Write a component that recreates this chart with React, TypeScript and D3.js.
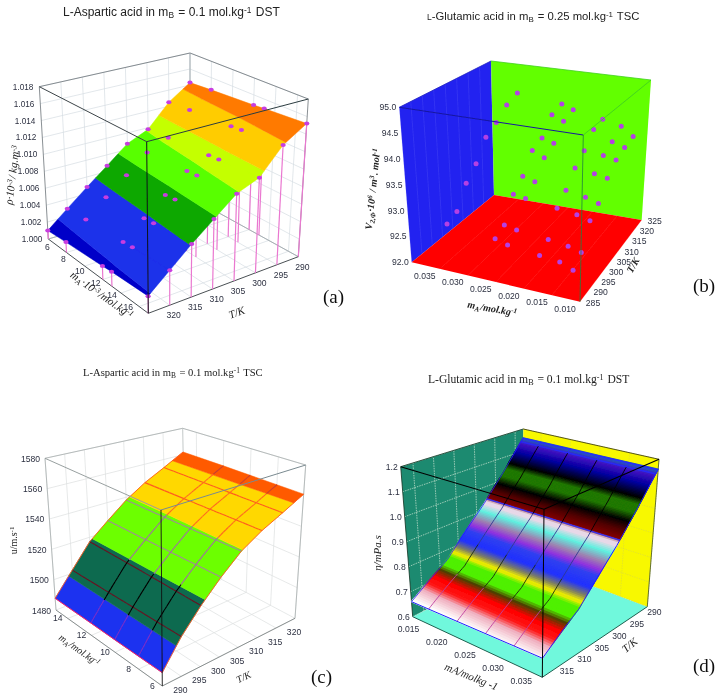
import React from "react";
import * as d3 from "d3";

type Pt = [number, number];
type Corners = { L: Pt; F: Pt; R: Pt; B: Pt; TL: Pt; TF: Pt; TR: Pt; TB: Pt };

// ---------- panel (a) ----------
const aTemps = [325, 320, 315, 310, 305, 300, 295, 290];
const aMolal = [6, 8, 12, 13, 17];
const aRho = [
  [1.001, 1.0012, 1.0015, 1.0016, 1.0018],
  [1.0029, 1.0031, 1.0034, 1.0035, 1.0037],
  [1.0048, 1.005, 1.0053, 1.0054, 1.0057],
  [1.0067, 1.0069, 1.0072, 1.0073, 1.0076],
  [1.0087, 1.0089, 1.0092, 1.0093, 1.0096],
  [1.0098, 1.01, 1.0103, 1.0104, 1.0106],
  [1.0125, 1.0127, 1.013, 1.0131, 1.0135],
  [1.0143, 1.0145, 1.0148, 1.0149, 1.0152],
];
const aLevels = [1.0, 1.002, 1.0056, 1.0078, 1.0097, 1.0112, 1.0137, 1.018];
const aColors = ["#0000c8", "#1c30ea", "#08a800", "#58ff00", "#c4ff00", "#ffcc00", "#ff7a00"];
const aRhoTicks = [1.0, 1.002, 1.004, 1.006, 1.008, 1.01, 1.012, 1.014, 1.016, 1.018];
const aMTicks = [6, 8, 10, 12, 14, 16];
const aTTicks = [320, 315, 310, 305, 300, 295, 290];

// ---------- panel (b) ----------
const bTemps = [290, 295, 300, 305, 310, 315, 320, 325];
const bMolal = [0.0351, 0.0266, 0.0244, 0.0187, 0.0151, 0.0127];
const bVol = [
  [92.7, 92.79, 93.2, 93.44, 93.84, 94.01, 94.24, 94.36],
  [92.61, 92.71, 93.15, 93.35, 93.72, 93.82, 94.16, 94.24],
  [92.54, 92.66, 93.11, 93.28, 93.61, 93.75, 94.06, 94.15],
  [92.47, 92.6, 93.03, 93.22, 93.5, 93.69, 93.97, 94.03],
  [92.43, 92.55, 92.98, 93.15, 93.45, 93.65, 93.77, 93.93],
  [92.33, 92.48, 92.91, 93.07, 93.4, 93.6, 93.69, 93.75],
];
const bVTicks = [92, 92.5, 93, 93.5, 94, 94.5, 95];
const bMTicks = [0.035, 0.03, 0.025, 0.02, 0.015, 0.01];
const bTTicks = [285, 290, 295, 300, 305, 310, 315, 320, 325];

// ---------- panel (c) ----------
const cTemps = [290, 295, 300, 305, 310, 315, 320, 325];
const cMolal = [15, 12, 10, 8, 6];
const cSpeed = [
  [1487.7, 1487.7, 1487.6, 1487.6, 1487.6],
  [1502, 1502.3, 1502.6, 1502.8, 1503],
  [1517, 1516.8, 1516.6, 1516.3, 1516],
  [1527.5, 1527.6, 1527.7, 1527.9, 1528],
  [1538, 1538.3, 1538.5, 1538.8, 1539],
  [1546.7, 1546.8, 1546.9, 1547, 1547],
  [1554, 1553.9, 1553.8, 1553.7, 1553.6],
  [1562, 1561.8, 1561.5, 1561.2, 1561],
];
const cLevels = [1480, 1499, 1518.5, 1539.5, 1557.5, 1580];
const cColors = ["#1c30f0", "#0e6a50", "#6cff00", "#ffd800", "#ff5a00"];
const cRowLine = ["#5020c0", "#6a1020", "#a08a98", "#ff5a20", "#ff5a20"];
const cColLine = ["#7a30c8", "#000000", "#a070a0", "#ff6a20", "#c84030"];
const cUTicks = [1480, 1500, 1520, 1540, 1560, 1580];
const cMTicks = [14, 12, 10, 8, 6];
const cTTicks = [290, 295, 300, 305, 310, 315, 320];

// ---------- panel (d) ----------
const dTemps = [318, 313, 308, 303, 298, 293, 288];
const dMolal = [0.012, 0.015, 0.02, 0.025, 0.03, 0.035];
const dEta = [
  [0.66, 0.661, 0.663, 0.665, 0.666, 0.668],
  [0.71, 0.712, 0.714, 0.715, 0.717, 0.718],
  [0.76, 0.761, 0.762, 0.764, 0.765, 0.766],
  [0.844, 0.844, 0.845, 0.845, 0.846, 0.846],
  [0.93, 0.93, 0.93, 0.93, 0.93, 0.93],
  [1.035, 1.035, 1.035, 1.035, 1.035, 1.035],
  [1.16, 1.16, 1.16, 1.16, 1.16, 1.16],
];
const dStops = [0.6, 0.665, 0.69, 0.705, 0.722, 0.738, 0.75, 0.77, 0.785, 0.8, 0.82, 0.85, 0.865, 0.885, 0.91, 0.93, 0.94, 0.95, 0.975, 1.0, 1.025, 1.05, 1.07, 1.11, 1.14, 1.16, 1.2];
const dStopColors = ["#ffffff", "#ffffff", "#f0b0c0", "#ff1818", "#ff0000", "#504000", "#50f000", "#50f000", "#f0f000", "#808060", "#2030ff", "#3040f0", "#9030e0", "#a080b0", "#60f0e0", "#e8d8e8", "#e8d8e8", "#800000", "#500000", "#000000", "#207800", "#207800", "#000000", "#0000a0", "#4010c0", "#2060c0", "#2060c0"];
const dLineLevels = [0.78, 0.945, 1.145, 1.158];
const dLineColors = ["#e8e800", "#3030ff", "#2828ff", "#2828ff"];
const dETicks = [0.6, 0.7, 0.8, 0.9, 1.0, 1.1, 1.2];
const dMTicks = [0.015, 0.02, 0.025, 0.03, 0.035];
const dTTicks = [315, 310, 305, 300, 295, 290];

// ---------- box placement on the page ----------
const boxA: Corners = { L: [48.3, 239], F: [148.3, 313.3], R: [298.3, 256.7], B: [190, 197], TL: [39.3, 86.7], TF: [146.7, 141.7], TR: [308.3, 99], TB: [190, 53] };
const boxB: Corners = { L: [411.7, 262.3], F: [580, 301.7], R: [641.7, 220], B: [494, 195], TL: [399.3, 107.3], TF: [583.3, 135], TR: [651, 80], TB: [491, 61] };
const boxC: Corners = { L: [56, 610], F: [162.3, 686], R: [295, 618.3], B: [185, 560], TL: [45, 458.3], TF: [161, 510], TR: [305.7, 465], TB: [182.7, 428.3] };
const boxD: Corners = { L: [412.7, 616.7], F: [542.3, 677.3], R: [647.3, 606.7], B: [523.3, 560], TL: [400.7, 466.7], TF: [544, 509.3], TR: [659, 459.3], TB: [523.3, 429] };

const lerp = (a: number, b: number, u: number) => a + (b - a) * u;
const lerpPt = (a: Pt, b: Pt, u: number): Pt => [lerp(a[0], b[0], u), lerp(a[1], b[1], u)];

const projector = (c: Corners) => (f: number, t: number, h: number): Pt => {
  const bottom = lerpPt(lerpPt(c.L, c.F, f), lerpPt(c.B, c.R, f), t);
  const top = lerpPt(lerpPt(c.TL, c.TF, f), lerpPt(c.TB, c.TR, f), t);
  return lerpPt(bottom, top, h);
};
type Proj = ReturnType<typeof projector>;
const unit = (a: number, b: number) => d3.scaleLinear().domain([a, b]).range([0, 1]);
const path = d3.line<Pt>();

type V = { f: number; t: number; v: number };
const clip = (poly: V[], lv: number, above: boolean): V[] => {
  const out: V[] = [];
  const inside = (p: V) => (above ? p.v >= lv : p.v <= lv);
  poly.forEach((p, i) => {
    const q = poly[(i + 1) % poly.length];
    if (inside(p)) out.push(p);
    if (inside(p) !== inside(q)) {
      const u = (lv - p.v) / (q.v - p.v);
      out.push({ f: lerp(p.f, q.f, u), t: lerp(p.t, q.t, u), v: lv });
    }
  });
  return out;
};

function bandPaths(p: Proj, fs: number[], ts: number[], grid: number[][], hs: (v: number) => number, lo: number, hi: number): string {
  let d = "";
  for (let i = 0; i < ts.length - 1; i++)
    for (let j = 0; j < fs.length - 1; j++) {
      let q: V[] = [
        { f: fs[j], t: ts[i], v: grid[i][j] },
        { f: fs[j + 1], t: ts[i], v: grid[i][j + 1] },
        { f: fs[j + 1], t: ts[i + 1], v: grid[i + 1][j + 1] },
        { f: fs[j], t: ts[i + 1], v: grid[i + 1][j] },
      ];
      q = clip(clip(q, lo, true), hi, false);
      if (q.length > 2) d += path(q.map((a) => p(a.f, a.t, hs(a.v)))) + "Z";
    }
  return d;
}

const Seg = ({ a, b, c, w = 0.8, dash }: { a: Pt; b: Pt; c: string; w?: number; dash?: string }) => (
  <line x1={a[0]} y1={a[1]} x2={b[0]} y2={b[1]} stroke={c} strokeWidth={w} strokeDasharray={dash} />
);

function Grid({ p, fT, tT, hT, c, w = 0.7, dash }: { p: Proj; fT: number[]; tT: number[]; hT: number[]; c: string; w?: number; dash?: string }) {
  const segs: [Pt, Pt][] = [];
  hT.forEach((h) => {
    segs.push([p(0, 0, h), p(0, 1, h)]);
    segs.push([p(0, 1, h), p(1, 1, h)]);
  });
  tT.forEach((t) => {
    segs.push([p(0, t, 0), p(0, t, 1)]);
    segs.push([p(0, t, 0), p(1, t, 0)]);
  });
  fT.forEach((f) => {
    segs.push([p(f, 1, 0), p(f, 1, 1)]);
    segs.push([p(f, 0, 0), p(f, 1, 0)]);
  });
  return <g>{segs.map((s, i) => <Seg key={i} a={s[0]} b={s[1]} c={c} w={w} dash={dash} />)}</g>;
}

function Ticks({ items, size = 8.6, fill = "#2c3040", anchor = "middle" }: { items: { x: number; y: number; s: string }[]; size?: number; fill?: string; anchor?: string }) {
  return (
    <g fontFamily="'Liberation Sans', Arial, sans-serif" fontSize={size} fill={fill} textAnchor={anchor}>
      {items.map((o, i) => <text key={i} x={o.x} y={o.y}>{o.s}</text>)}
    </g>
  );
}

const Sub = ({ s, dy = 2 }: { s: string; dy?: number }) => <><tspan dy={dy} fontSize="70%">{s}</tspan><tspan dy={-dy}>{"\u200a"}</tspan></>;
const Sup = ({ s, dy = -3 }: { s: string; dy?: number }) => <><tspan dy={dy} fontSize="70%">{s}</tspan><tspan dy={-dy}>{"\u200a"}</tspan></>;

const SANS = "'Liberation Sans', Arial, sans-serif";
const SERIF = "'Liberation Serif', 'Times New Roman', serif";

function PanelA() {
  const p = projector(boxA);
  const fS = unit(6, 17), tS = unit(325, 290), hS = unit(1.0, 1.018);
  const fs = aMolal.map(fS), ts = aTemps.map(tS);
  const g = "#d6dde2";
  const { L, F, R, B, TL, TF, TR, TB } = boxA;
  return (
    <g>
      <Grid p={p} fT={aMTicks.map(fS)} tT={aTTicks.map(tS)} hT={aRhoTicks.map(hS)} c={g} />
      <Seg a={TL} b={TB} c="#6c7478" />
      <Seg a={TB} b={TR} c="#6c7478" />
      <Seg a={TB} b={B} c="#9aa2a6" />
      <Seg a={TL} b={L} c="#6c7478" />
      <Seg a={TR} b={R} c="#6c7478" />
      <Seg a={L} b={B} c="#9aa2a6" />
      <Seg a={B} b={R} c="#9aa2a6" />
      <Seg a={L} b={F} c="#4a5054" w={1} />
      <Seg a={F} b={R} c="#4a5054" w={1} />
      <g stroke="#ea78d0" strokeWidth={1.2}>
        {aTemps.map((_, i) => aMolal.map((_, j) => {
          const a = p(fs[j], ts[i], hS(aRho[i][j]));
          const b = p(fs[j], ts[i], 0);
          return <line key={i + "-" + j} x1={a[0]} y1={a[1]} x2={b[0]} y2={b[1]} />;
        }))}
      </g>
      {aColors.map((c, k) => (
        <path key={k} d={bandPaths(p, fs, ts, aRho, hS, aLevels[k], aLevels[k + 1])} fill={c} stroke={c} strokeWidth={0.5} />
      ))}
      <g fill="#c83ce0">
        {aTemps.map((_, i) => aMolal.map((_, j) => {
          const a = p(fs[j], ts[i], hS(aRho[i][j]));
          return <ellipse key={i + "-" + j} cx={a[0]} cy={a[1]} rx={2.6} ry={2} />;
        }))}
      </g>
      <Seg a={TL} b={TF} c="#3c4448" w={1} />
      <Seg a={TF} b={TR} c="#2c3c40" w={1} />
      <Seg a={TF} b={F} c="#101418" w={1} />
      <Ticks size={8.2} anchor="end" items={aRhoTicks.map((v) => { const q = p(0, 0, hS(v)); return { x: q[0] - 6, y: q[1] + 3, s: v.toFixed(3) }; })} />
      <Ticks items={aMTicks.map((v) => { const f = fS(v); const q = p(f, 0, 0); return { x: q[0] + lerp(-1, -12, f), y: q[1] + lerp(11, 3, f), s: String(v) }; })} />
      <Ticks items={aTTicks.map((v) => { const q = p(1, tS(v), 0); return { x: q[0] + 4, y: q[1] + 13, s: String(v) }; })} />
      <text x={63} y={16} fontFamily={SANS} fontSize={12} fill="#222">L-Aspartic acid in m<Sub s="B" /> = 0.1 mol.kg<Sup s="-1" /> DST</text>
      <g fontFamily={SERIF} fontStyle="italic" fontSize={11} fill="#222" textAnchor="middle">
        <text transform="translate(100,298) rotate(35)">m<Sub s="A" />·10<Sup s="-3" />/mol.kg<Sup s="-1" /></text>
        <text transform="translate(238,316) rotate(-20)">T/K</text>
        <text transform="translate(16,175) rotate(-83)">ρ·10<Sup s="-3" />/ kg.m<Sup s="-3" /></text>
      </g>
      <text x={323} y={303} fontFamily={SERIF} fontSize={19} fill="#111">(a)</text>
    </g>
  );
}

function PanelB() {
  const p = projector(boxB);
  const fS = unit(0.04, 0.01), tS = unit(285, 325), hS = unit(92, 95);
  const { L, F, R, B, TL, TF, TR, TB } = boxB;
  const poly = (a: Pt[]) => path(a) + "Z";
  return (
    <g>
      <path d={poly([TL, TB, B, L])} fill="#2222f0" />
      <path d={poly([TB, TR, R, B])} fill="#62ff00" />
      <path d={poly([L, F, R, B])} fill="#ff0000" />
      <g opacity={0.25}>
        {bTTicks.map((v) => <Seg key={v} a={p(0, tS(v), 0)} b={p(0, tS(v), 1)} c="#9090ff" w={0.6} />)}
        {bMTicks.map((v) => <Seg key={v} a={p(fS(v), 0, 0)} b={p(fS(v), 1, 0)} c="#ff9090" w={0.6} />)}
      </g>
      <g fill="#b440e4">
        {bMolal.map((m, j) => bTemps.map((T, i) => {
          const a = p(fS(m), tS(T), hS(bVol[j][i]));
          return <circle key={i + "-" + j} cx={a[0]} cy={a[1]} r={2.5} />;
        }))}
      </g>
      <Seg a={TL} b={TF} c="#1818a0" w={1} />
      <Seg a={TF} b={TR} c="#40d020" w={0.9} />
      <Seg a={TF} b={F} c="#208040" w={0.8} />
      <Seg a={TL} b={TB} c="#2020c0" />
      <Seg a={TB} b={TR} c="#40d020" />
      <Ticks anchor="end" items={bVTicks.map((v) => { const q = p(0, 0, hS(v)); return { x: q[0] - 3, y: q[1] + 3, s: v.toFixed(1) }; })} />
      <Ticks items={bMTicks.map((v) => { const q = p(fS(v), 0, 0); return { x: q[0] - 15, y: q[1] + 10, s: v.toFixed(3) }; })} />
      <Ticks items={bTTicks.map((v) => { const q = p(1, tS(v), 0); return { x: q[0] + 13, y: q[1] + 4, s: String(v) }; })} />
      <text x={427} y={20} fontFamily={SANS} fontSize={11.3} fill="#222"><tspan fontSize={8.5}>L</tspan>-Glutamic acid in m<Sub s="B" /> = 0.25 mol.kg<Sup s="-1" /> TSC</text>
      <g fontFamily={SERIF} fontStyle="italic" fontWeight="bold" fontSize={10} fill="#222" textAnchor="middle">
        <text transform="translate(376,189) rotate(-84)">V<Sub s="2,Φ" />·10<Sup s="6" /> / m<Sup s="3" />. mol<Sup s="-1" /></text>
        <text transform="translate(492,312) rotate(10)">m<Sub s="A" />/mol.kg<Sup s="-1" /></text>
        <text transform="translate(636,267) rotate(-60)">T/K</text>
      </g>
      <text x={693} y={292} fontFamily={SERIF} fontSize={19} fill="#111">(b)</text>
    </g>
  );
}

function PanelC() {
  const p = projector(boxC);
  const fS = unit(15, 6), tS = unit(290, 325), hS = unit(1480, 1580);
  const fs = cMolal.map(fS), ts = cTemps.map(tS);
  const { L, F, R, B, TL, TF, TR, TB } = boxC;
  const bandOf = (v: number) => Math.max(0, d3.bisectRight(cLevels, v) - 1);
  const segs: { a: Pt; b: Pt; c: string }[] = [];
  const addLine = (pts: { f: number; t: number; v: number }[], colors: string[]) => {
    for (let k = 0; k < pts.length - 1; k++) {
      const a = pts[k], b = pts[k + 1];
      const N = 8;
      for (let n = 0; n < N; n++) {
        const u0 = n / N, u1 = (n + 1) / N;
        const v0 = lerp(a.v, b.v, u0), v1 = lerp(a.v, b.v, u1);
        segs.push({
          a: p(lerp(a.f, b.f, u0), lerp(a.t, b.t, u0), hS(v0)),
          b: p(lerp(a.f, b.f, u1), lerp(a.t, b.t, u1), hS(v1)),
          c: colors[bandOf((v0 + v1) / 2)],
        });
      }
    }
  };
  cTemps.forEach((_, i) => { if (i > 0 && i < cTemps.length - 1) addLine(cMolal.map((_, j) => ({ f: fs[j], t: ts[i], v: cSpeed[i][j] })), cRowLine); });
  cMolal.forEach((_, j) => { if (j > 0 && j < cMolal.length - 1) addLine(cTemps.map((_, i) => ({ f: fs[j], t: ts[i], v: cSpeed[i][j] })), cColLine); });
  const edgeFront = cTemps.map((_, i) => p(1, ts[i], hS(cSpeed[i][cMolal.length - 1])));
  const edgeBack = cTemps.map((_, i) => p(0, ts[i], hS(cSpeed[i][0])));
  const edgeLow = cMolal.map((_, j) => p(fs[j], 0, hS(cSpeed[0][j])));
  return (
    <g>
      <Grid p={p} fT={cMTicks.map(fS)} tT={cTTicks.map(tS)} hT={cUTicks.map(hS)} c="#dde0e0" />
      <Seg a={TL} b={TB} c="#a8aeae" />
      <Seg a={TB} b={TR} c="#a8aeae" />
      <Seg a={TB} b={B} c="#b4baba" />
      <Seg a={TL} b={L} c="#a8aeae" />
      <Seg a={TR} b={R} c="#a8aeae" />
      <Seg a={L} b={F} c="#8a9090" w={1} />
      <Seg a={F} b={R} c="#8a9090" w={1} />
      {cColors.map((c, k) => (
        <path key={k} d={bandPaths(p, fs, ts, cSpeed, hS, cLevels[k], cLevels[k + 1])} fill={c} stroke={c} strokeWidth={0.5} />
      ))}
      {segs.map((s, i) => <Seg key={i} a={s.a} b={s.b} c={s.c} w={1.1} />)}
      <path d={path(edgeFront) ?? ""} fill="none" stroke="#ff5a20" strokeWidth={0.9} />
      <path d={path(edgeBack) ?? ""} fill="none" stroke="#ff5a20" strokeWidth={0.9} />
      <path d={path(edgeLow) ?? ""} fill="none" stroke="#ff2060" strokeWidth={1} />
      <Seg a={TL} b={TF} c="#98a0a0" w={1} />
      <Seg a={TF} b={TR} c="#7a8a90" w={1} />
      <Seg a={TF} b={F} c="#101010" w={0.9} />
      <Ticks anchor="end" items={cUTicks.map((v) => { const q = p(0, 0, hS(v)); return { x: q[0] - 5, y: q[1] + 3.5, s: String(v) }; })} />
      <Ticks items={cMTicks.map((v) => { const q = p(fS(v), 0, 0); return { x: q[0] - 10, y: q[1] + 3, s: String(v) }; })} />
      <Ticks items={cTTicks.map((v) => { const q = p(1, tS(v), 0); return { x: q[0] + 18, y: q[1] + 7, s: String(v) }; })} />
      <text x={83} y={376} fontFamily={SERIF} fontSize={10.6} fill="#222">L-Aspartic acid in  m<Sub s="B" /> = 0.1 mol.kg<Sup s="-1" /> TSC</text>
      <g fontFamily={SERIF} fontStyle="italic" fontSize={10} fill="#222" textAnchor="middle">
        <text transform="translate(17,540) rotate(-90)" fontStyle="normal">u/m.s<Sup s="-1" /></text>
        <text transform="translate(78,653) rotate(35)">m<Sub s="A" />/mol.kg<Sup s="-1" /></text>
        <text transform="translate(245,680) rotate(-25)">T/K</text>
      </g>
      <text x={311} y={683} fontFamily={SERIF} fontSize={19} fill="#111">(c)</text>
    </g>
  );
}

function PanelD() {
  const p = projector(boxD);
  const fS = unit(0.012, 0.035), tS = unit(318, 288), hS = unit(0.6, 1.2);
  const fs = dMolal.map(fS), ts = dTemps.map(tS);
  const { L, F, R, B, TL, TF, TR, TB } = boxD;
  const col = d3.scaleLinear<string>().domain(dStops).range(dStopColors);
  const lv = d3.range(0.6, 1.2, 0.004);
  const poly = (a: Pt[]) => path(a) + "Z";
  const lineColor = (v: number) => (v < 0.74 ? "#c040a0" : v < 0.82 ? "#1a2a10" : v < 0.945 ? "#303890" : v < 1.14 ? "#000000" : "#2828ff");
  const segs: { a: Pt; b: Pt; c: string }[] = [];
  dMolal.forEach((_, j) => {
    if (j === 0 || j === dMolal.length - 1) return;
    for (let i = 0; i < dTemps.length - 1; i++) {
      const N = 8;
      for (let n = 0; n < N; n++) {
        const u0 = n / N, u1 = (n + 1) / N;
        const t0 = lerp(ts[i], ts[i + 1], u0), t1 = lerp(ts[i], ts[i + 1], u1);
        const v0 = lerp(dEta[i][j], dEta[i + 1][j], u0), v1 = lerp(dEta[i][j], dEta[i + 1][j], u1);
        segs.push({ a: p(fs[j], t0, hS(v0)), b: p(fs[j], t1, hS(v1)), c: lineColor((v0 + v1) / 2) });
      }
    }
  });
  const edgeFront = dTemps.map((_, i) => p(1, ts[i], hS(dEta[i][dMolal.length - 1])));
  const edgeBack = dTemps.map((_, i) => p(0, ts[i], hS(dEta[i][0])));
  return (
    <g>
      <path d={poly([TL, TB, B, L])} fill="#1e8a70" />
      <path d={poly([TB, TR, R, B])} fill="#f8f800" />
      <path d={poly([L, F, R, B])} fill="#70f8dc" />
      {dETicks.map((v) => <Seg key={v} a={p(0, 0, hS(v))} b={p(0, 1, hS(v))} c="#b8dcc8" w={0.8} dash="1.5 1" />)}
      {dTTicks.map((v) => <Seg key={v} a={p(0, tS(v), 0)} b={p(0, tS(v), 1)} c="#b8dcc8" w={0.8} dash="1.5 1" />)}
      {dETicks.map((v) => <Seg key={"r" + v} a={p(0, 1, hS(v))} b={p(1, 1, hS(v))} c="#d8d840" w={0.6} dash="1.5 1" />)}
      {dMTicks.map((v) => <Seg key={"q" + v} a={p(fS(v), 1, 0)} b={p(fS(v), 1, 1)} c="#d8d840" w={0.6} dash="1.5 1" />)}
      <Seg a={TL} b={TB} c="#103020" />
      <Seg a={TB} b={TR} c="#303000" />
      <Seg a={TL} b={L} c="#103020" />
      <Seg a={TR} b={R} c="#405020" />
      <Seg a={L} b={F} c="#206050" w={1} />
      <Seg a={F} b={R} c="#206050" w={1} />
      {lv.map((lo, k) => {
        const c = col(lo + 0.002);
        return <path key={k} d={bandPaths(p, fs, ts, dEta, hS, lo, lo + 0.004)} fill={c} stroke={c} strokeWidth={1.2} strokeLinejoin="round" />;
      })}
      {dLineLevels.map((v, k) => <path key={k} d={bandPaths(p, fs, ts, dEta, hS, v - 0.0012, v + 0.0012)} fill={dLineColors[k]} stroke={dLineColors[k]} strokeWidth={0.5} />)}
      {segs.map((s, i) => <Seg key={i} a={s.a} b={s.b} c={s.c} w={0.9} />)}
      <path d={path(edgeFront) ?? ""} fill="none" stroke="#2020ff" strokeWidth={1} />
      <path d={path(edgeBack) ?? ""} fill="none" stroke="#2020ff" strokeWidth={0.8} />
      <Seg a={p(0, 0, hS(dEta[0][0]))} b={p(1, 0, hS(dEta[0][dMolal.length - 1]))} c="#2020ff" w={1} />
      <Seg a={TL} b={TF} c="#000000" w={1.1} />
      <Seg a={TF} b={TR} c="#000000" w={1.1} />
      <Seg a={TF} b={F} c="#000000" w={1} />
      <Ticks anchor="end" items={dETicks.map((v) => { const q = p(0, 0, hS(v)); return { x: q[0] - 3, y: q[1] + 3, s: v.toFixed(1) }; })} />
      <Ticks items={dMTicks.map((v) => { const q = p(fS(v), 0, 0); return { x: q[0] - 21, y: q[1] + 7, s: v.toFixed(3) }; })} />
      <Ticks items={dTTicks.map((v) => { const q = p(1, tS(v), 0); return { x: q[0] + 14, y: q[1] + 4, s: String(v) }; })} />
      <text x={428} y={383} fontFamily={SERIF} fontSize={11.6} fill="#222">L-Glutamic acid in m<Sub s="B" /> = 0.1  mol.kg<Sup s="-1" /> DST</text>
      <g fontFamily={SERIF} fontStyle="italic" fontSize={11} fill="#222" textAnchor="middle">
        <text transform="translate(381,553) rotate(-90)">η/mPa.s</text>
        <text transform="translate(470,680) rotate(22)">mA/molkg -1</text>
        <text transform="translate(632,648) rotate(-40)">T/K</text>
      </g>
      <text x={693} y={672} fontFamily={SERIF} fontSize={19} fill="#111">(d)</text>
    </g>
  );
}

export default function App() {
  return (
    <svg width={717} height={698} style={{ position: "absolute", left: 0, top: 0, background: "#fff" }}>
      <defs>
        <filter id="soft" x="0" y="0" width="717" height="698" filterUnits="userSpaceOnUse">
          <feGaussianBlur stdDeviation={0.4} />
        </filter>
      </defs>
      <g filter="url(#soft)">
        <rect x={0} y={0} width={717} height={698} fill="#fff" />
        <PanelA />
        <PanelB />
        <PanelC />
        <PanelD />
      </g>
    </svg>
  );
}
